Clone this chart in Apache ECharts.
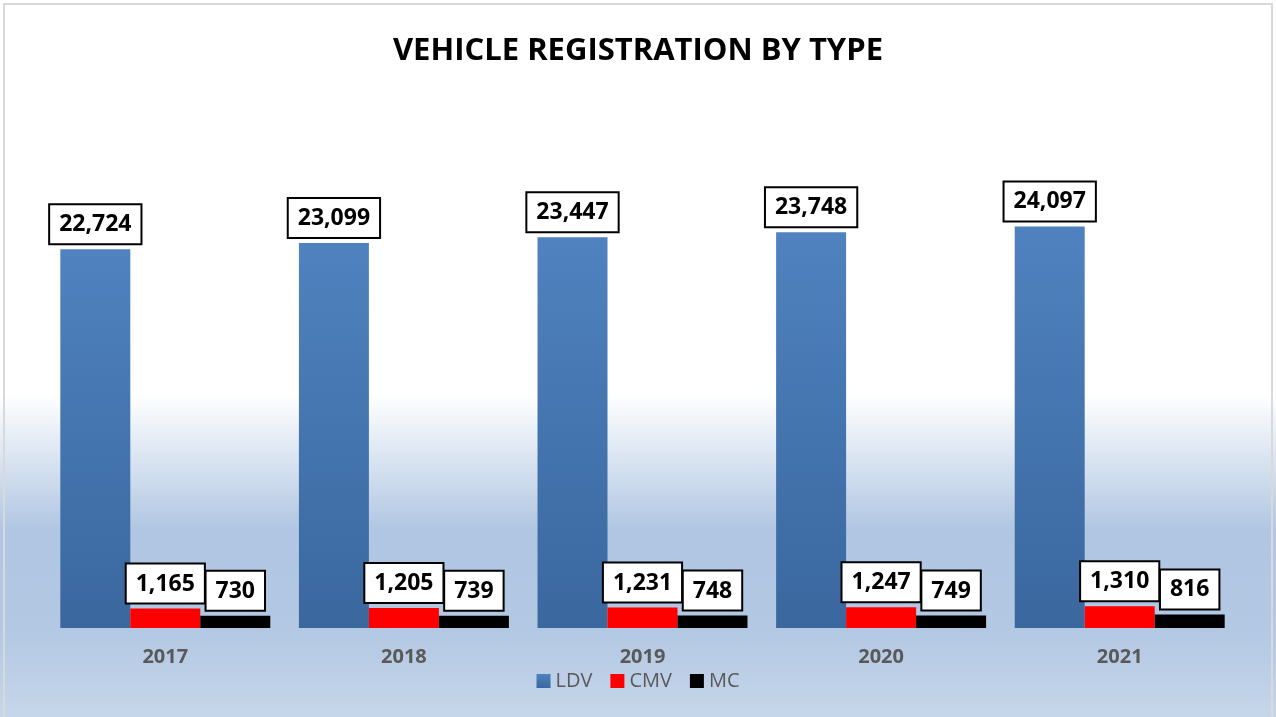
<!DOCTYPE html>
<html>
<head>
<meta charset="utf-8">
<script src="https://cdn.jsdelivr.net/npm/echarts@6/dist/echarts.min.js"></script>
<style>
html,body{margin:0;padding:0;background:#fff;}
#c{width:1276px;height:717px;}
</style>
</head>
<body>
<div id="c"></div>
<script>
const categories = ['2017', '2018', '2019', '2020', '2021'];
const ldv = [22724, 23099, 23447, 23748, 24097];
const cmv = [1165, 1205, 1231, 1247, 1310];
const mc = [730, 739, 748, 749, 816];
const seriesNames = ['LDV', 'CMV', 'MC'];

const chart = echarts.init(document.getElementById('c'));
const fmt = p => p.value.toLocaleString('en-US');
const labelStyle = {
  show: true,
  position: 'top',
  distance: 6,
  formatter: fmt,
  backgroundColor: '#ffffff',
  borderColor: '#000000',
  borderWidth: 2,
  padding: [8, 9, 7, 9],
  fontSize: 23,
  fontWeight: 'bold',
  fontFamily: 'Open Sans',
  color: '#000000'
};
const ldvColor = new echarts.graphic.LinearGradient(0, 0, 0, 1, [
  {offset: 0, color: '#4f82bf'},
  {offset: 1, color: '#3a679e'}
]);
chart.setOption({
  backgroundColor: new echarts.graphic.LinearGradient(0, 0, 0, 1, [
    {offset: 0, color: '#ffffff'},
    {offset: 0.55, color: '#ffffff'},
    {offset: 0.74, color: '#b0c6e2'},
    {offset: 0.88, color: '#b3c8e3'},
    {offset: 1, color: '#c6d6ea'}
  ]),
  graphic: [{
    type: 'rect',
    shape: {x: 4, y: 4, width: 1268, height: 720},
    style: {fill: 'none', stroke: '#d9d9d9', lineWidth: 2},
    silent: true
  }],
  title: {
    text: 'VEHICLE REGISTRATION BY TYPE',
    left: 'center',
    top: 31,
    textStyle: {fontFamily: 'Open Sans', fontWeight: 'bold', fontSize: 31, color: '#000000'}
  },
  legend: {
    data: seriesNames,
    bottom: 21,
    left: 'center',
    itemWidth: 14,
    itemHeight: 14,
    itemGap: 18,
    icon: 'rect',
    textStyle: {fontFamily: 'Open Sans', fontSize: 20, color: '#595959'}
  },
  grid: {left: 46, right: 37, top: 128, bottom: 89},
  xAxis: {
    type: 'category',
    data: categories,
    axisLine: {show: false},
    axisTick: {show: false},
    axisLabel: {fontFamily: 'Open Sans', fontWeight: 'bold', fontSize: 20, color: '#595959', margin: 19}
  },
  yAxis: {
    type: 'value',
    min: 0,
    max: 30000,
    show: false,
    splitLine: {show: false}
  },
  series: [
    {name: 'LDV', type: 'bar', data: ldv, barGap: '0%', barCategoryGap: '12%',
     itemStyle: {color: ldvColor}, label: labelStyle},
    {name: 'CMV', type: 'bar', data: cmv, itemStyle: {color: '#ff0000'}, label: labelStyle},
    {name: 'MC', type: 'bar', data: mc, itemStyle: {color: '#000000'}, label: labelStyle}
  ]
});
</script>
</body>
</html>
